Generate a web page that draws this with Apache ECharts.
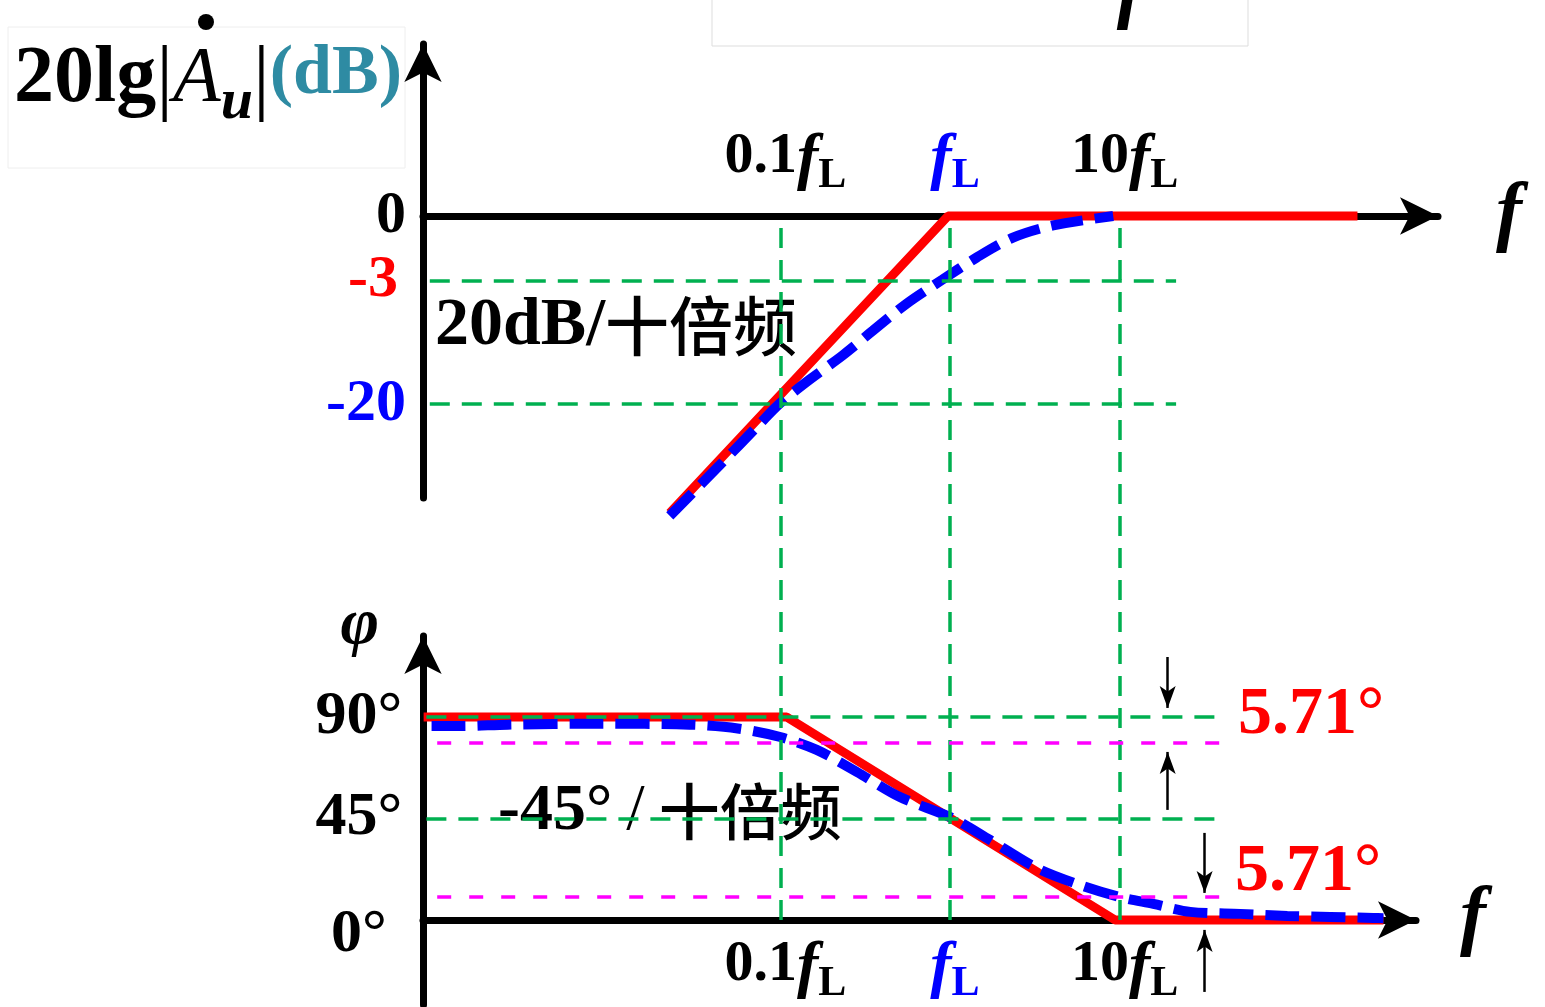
<!DOCTYPE html>
<html><head><meta charset="utf-8">
<script src="https://cdn.jsdelivr.net/npm/echarts@6.0.0/dist/echarts.min.js"></script>
<style>html,body{margin:0;padding:0;background:#fff;}#chart{width:1545px;height:1007px;}</style>
</head><body><div id="chart"></div>
<script>
// Frequencies in units of fL, magnitude in dB, phase in degrees (schematic Bode plot of a high-pass circuit)
const freqTicks = [0.1, 1, 10];
const freqTickPrefix = ['0.1', '', '10'];
const magTicks = [0, -6.9, -20];            // drawn level of each magnitude tick (schematic)
const magTickLabels = ['0', '-3', '-20'];
const phaseTicks = [0, 45, 90];
const phaseTickLabels = ['0°', '45°', '90°'];

const magAsymF  = [0.0223, 0.973, 252];
const magAsymDb = [-31.6, 0, 0];
const magRealF  = [0.0223, 0.044, 0.0757, 0.1, 0.149, 0.234, 0.351, 0.557, 0.897, 1.44, 2.35, 4.06, 9.16];
const magRealDb = [-31.9, -26.5, -22.1, -19.9, -17.4, -14.8, -12.2, -9.3, -6.8, -4.4, -2.3, -1.0, 0];

const phaseAsymF   = [0.00079, 0.109, 9.4, 359];
const phaseAsymDeg = [90, 90, 0, 0];
const phaseRealF   = [0.00088, 0.00132, 0.00247, 0.0086, 0.0292, 0.0561, 0.1, 0.164, 0.283, 0.507, 1.03, 1.72, 3.26, 5.85, 10, 15.8, 26.1, 51.4, 97.3, 313, 359];
const phaseRealDeg = [86.0, 86.0, 86.6, 87.0, 86.6, 84.9, 81.1, 75.4, 65.6, 54.5, 45.2, 35.5, 23.0, 15.5, 10.2, 7.1, 3.6, 2.7, 1.8, 0.9, 0.8];

const magGuideDb     = [-6.9, -20];   // green guides at the -3 dB and -20 dB levels
const phaseGuideDeg  = [90, 45];      // green guides
const phaseOffsetDeg = [78.5, 10.2];  // magenta guides, 5.71° away from 90° and 0°
const offsetLabels   = ['5.71°', '5.71°'];

// ---------------- layout / style ----------------
const L10 = Math.log10;
const X_MIN = -3.106, X_MAX_TOP = 2.876, X_MAX_BOT = 2.747;
const SERIF = "'Liberation Serif','Times New Roman',serif";
const CJK = "'Noto Sans CJK SC',sans-serif";
const GREEN = '#00B050', MAGENTA = '#FF00FF', RED = '#FF0000', BLUE = '#0000FF', TEAL = '#2E8BA3';
const AXIS_W = 7;

function pts(fs, vs) { return fs.map((f, i) => [L10(f), vs[i]]); }
function nearest(arr, v) { let b = 0; arr.forEach((a, i) => { if (Math.abs(a - v) < Math.abs(arr[b] - v)) b = i; }); return b; }
const freqDec = freqTicks.map(L10);

const xRich = {
  n:  {fontFamily: SERIF, fontWeight: 'bold', fontSize: 58, lineHeight: 58, verticalAlign: 'top', color: '#000'},
  f:  {fontFamily: SERIF, fontWeight: 'bold', fontStyle: 'italic', fontSize: 64, lineHeight: 58, verticalAlign: 'top', color: '#000'},
  L:  {fontFamily: SERIF, fontWeight: 'bold', fontSize: 42, lineHeight: 42, verticalAlign: 'top', padding: [27, 0, 0, 0], color: '#000'},
  fb: {fontFamily: SERIF, fontWeight: 'bold', fontStyle: 'italic', fontSize: 64, lineHeight: 58, verticalAlign: 'top', color: BLUE},
  Lb: {fontFamily: SERIF, fontWeight: 'bold', fontSize: 42, lineHeight: 42, verticalAlign: 'top', padding: [27, 0, 0, 0], color: BLUE}
};
function freqLabel(v) {
  const i = nearest(freqDec, v);
  const pre = freqTickPrefix[i];
  const hl = freqTicks[i] === 1;
  return (pre ? '{n|' + pre + '}' : '') + (hl ? '{fb|f}{Lb|L}' : '{f|f}{L|L}');
}
const axisLineStyle = {color: '#000', width: AXIS_W};
const fName = {fontFamily: SERIF, fontStyle: 'italic', fontWeight: 'bold', fontSize: 78, color: '#000', verticalAlign: 'middle'};

// data x-axes (scale only)
function xDataAxis(gridIndex, max) {
  return {type: 'value', gridIndex, min: X_MIN, max, axisLine: {show: false}, axisTick: {show: false}, axisLabel: {show: false}, splitLine: {show: false}};
}
// visible frequency axes (their grid's bottom edge sits on the 0 dB / 0° level)
function xShownAxis(gridIndex, max, top) {
  return {
    type: 'value', gridIndex, min: X_MIN, max, position: 'bottom',
    axisLine: {show: true, onZero: false, symbol: ['none', 'arrow'], symbolSize: [28, 38], lineStyle: axisLineStyle},
    axisTick: {show: false}, splitLine: {show: false},
    axisLabel: {show: true, customValues: freqDec, inside: top, margin: top ? 30 : 16, padding: [0, 0, 0, 10], formatter: freqLabel, rich: xRich},
    name: 'f', nameLocation: 'end', nameGap: top ? 58 : 44, nameTextStyle: fName, nameMoveOverlap: false
  };
}

const guideStyle = (c) => ({color: c, width: 3.5, type: [20, 12]});
function hLine(x1, x2, y) { return [{coord: [x1, y]}, {coord: [x2, y]}]; }
function helper(xi, yi, markLine) {
  return {type: 'line', xAxisIndex: xi, yAxisIndex: yi, data: [[X_MIN, 0]], showSymbol: false, lineStyle: {opacity: 0}, silent: true, markLine};
}

const magGuideEnd = L10(21.5), phGuideEnd = L10(41.5), magentaStart = L10(0.00095);
const arrowA = L10(19.2), arrowB = L10(31.7);
const G = {containLabel: false, outerBoundsMode: 'none'};

const option = {
  animation: false,
  grid: [
    Object.assign({left: 423, right: 107, top: 44, bottom: 509}, G),   // 0 magnitude data
    Object.assign({left: 423, right: 129, top: 636, bottom: 2}, G),    // 1 phase data
    Object.assign({left: 423, right: 107, top: 216, bottom: 87}, G),   // 2 vertical guides
    Object.assign({left: 423, right: 107, top: 44, bottom: 791}, G),   // 3 magnitude f-axis
    Object.assign({left: 423, right: 129, top: 636, bottom: 87}, G)    // 4 phase f-axis
  ],
  xAxis: [
    xDataAxis(0, X_MAX_TOP),
    xDataAxis(1, X_MAX_BOT),
    {type: 'value', gridIndex: 2, min: X_MIN, max: X_MAX_TOP, show: false},
    xShownAxis(3, X_MAX_TOP, true),
    xShownAxis(4, X_MAX_BOT, false)
  ],
  yAxis: [
    {
      type: 'value', gridIndex: 0, min: -30.0, max: 18.3,
      axisLine: {show: true, onZero: false, symbol: ['none', 'arrow'], symbolSize: [28, 38], lineStyle: axisLineStyle},
      axisTick: {show: false}, splitLine: {show: false},
      axisLabel: {
        customValues: magTicks, margin: 17,
        formatter: v => { const i = nearest(magTicks, v); return '{' + ['k', 'r', 'b'][i] + '|' + magTickLabels[i] + '}'; },
        rich: {
          k: {fontFamily: SERIF, fontWeight: 'bold', fontSize: 60, color: '#000'},
          r: {fontFamily: SERIF, fontWeight: 'bold', fontSize: 60, color: RED, padding: [0, 8, 0, 0]},
          b: {fontFamily: SERIF, fontWeight: 'bold', fontSize: 60, color: BLUE}
        }
      }
    },
    {
      type: 'value', gridIndex: 1, min: -37.7, max: 125.9,
      axisLine: {show: true, onZero: false, symbol: ['none', 'arrow'], symbolSize: [28, 38], lineStyle: axisLineStyle},
      axisTick: {show: false}, splitLine: {show: false},
      axisLabel: {
        customValues: phaseTicks, margin: 64, align: 'center',
        formatter: v => { const i = nearest(phaseTicks, v); return '{' + (phaseTicks[i] === 0 ? 'z' : 'k') + '|' + phaseTickLabels[i] + '}'; },
        rich: {
          k: {fontFamily: SERIF, fontWeight: 'bold', fontSize: 62, color: '#000'},
          z: {fontFamily: SERIF, fontWeight: 'bold', fontSize: 62, color: '#000', padding: [30, 0, 0, 0]}
        }
      },
      name: 'φ', nameLocation: 'end', nameGap: 10, nameMoveOverlap: false,
      nameTextStyle: {fontFamily: SERIF, fontStyle: 'italic', fontWeight: 'bold', fontSize: 66, color: '#000', align: 'right', verticalAlign: 'middle', padding: [0, 44, 0, 0]}
    },
    {type: 'value', gridIndex: 2, min: 0, max: 1, show: false},
    {type: 'value', gridIndex: 3, min: 0, max: 1, show: false},
    {type: 'value', gridIndex: 4, min: 0, max: 1, show: false}
  ],
  series: [
    // vertical green guides at 0.1fL, fL, 10fL spanning both panels
    helper(2, 2, {silent: true, symbol: 'none', label: {show: false}, lineStyle: guideStyle(GREEN), emphasis: {disabled: true},
      data: freqDec.map(d => ({xAxis: d}))}),
    // magnitude guides
    helper(0, 0, {silent: true, symbol: 'none', label: {show: false}, lineStyle: guideStyle(GREEN), emphasis: {disabled: true},
      data: magGuideDb.map(y => hLine(X_MIN + 0.04, magGuideEnd, y))}),
    {
      name: 'asymptote', type: 'line', xAxisIndex: 0, yAxisIndex: 0, data: pts(magAsymF, magAsymDb),
      showSymbol: false, clip: false, lineStyle: {color: RED, width: 9}, z: 3
    },
    {
      name: 'actual', type: 'line', xAxisIndex: 0, yAxisIndex: 0, data: pts(magRealF, magRealDb), smooth: 0.3,
      showSymbol: false, clip: false, lineStyle: {color: BLUE, width: 10, type: [32, 12]}, z: 4
    },
    // phase guides
    helper(1, 1, {silent: true, symbol: 'none', label: {show: false}, lineStyle: guideStyle(GREEN), emphasis: {disabled: true},
      data: phaseGuideDeg.map(y => hLine(X_MIN + 0.02, phGuideEnd, y))}),
    helper(1, 1, {silent: true, symbol: 'none', label: {show: false}, lineStyle: {color: MAGENTA, width: 3.5, type: [14, 18]}, emphasis: {disabled: true},
      data: phaseOffsetDeg.map(y => hLine(magentaStart, phGuideEnd - 0.02, y))}),
    // 5.71° indicator arrows
    helper(1, 1, {silent: true, symbol: ['none', 'arrow'], symbolSize: [12, 22], label: {show: false}, lineStyle: {color: '#000', width: 2.5, type: 'solid'}, emphasis: {disabled: true},
      data: [
        [{coord: [arrowA, 116.6]}, {coord: [arrowA, 94.0]}],
        [{coord: [arrowA, 48.8]}, {coord: [arrowA, 74.5]}],
        [{coord: [arrowB, 38.6]}, {coord: [arrowB, 12.0]}],
        [{coord: [arrowB, -31.9]}, {coord: [arrowB, -4.4]}]
      ]}),
    {
      name: 'asymptote', type: 'line', xAxisIndex: 1, yAxisIndex: 1, data: pts(phaseAsymF, phaseAsymDeg),
      showSymbol: false, clip: false, lineStyle: {color: RED, width: 9}, z: 3
    },
    {
      name: 'actual', type: 'line', xAxisIndex: 1, yAxisIndex: 1, data: pts(phaseRealF, phaseRealDeg), smooth: 0.3,
      showSymbol: false, clip: false, lineStyle: {color: BLUE, width: 10, type: [34, 12]}, z: 4
    }
  ],
  graphic: [
    {type: 'rect', shape: {x: 8, y: 27, width: 397, height: 141}, style: {fill: '#fff', stroke: '#eeeeee', lineWidth: 1}, z: -1, silent: true},
    {type: 'rect', shape: {x: 712, y: -2, width: 536, height: 48}, style: {fill: '#fff', stroke: '#dddddd', lineWidth: 1}, z: -1, silent: true},
    {type: 'text', x: 1130, y: 32, silent: true,
      style: {text: 'f', fontFamily: SERIF, fontStyle: 'italic', fontWeight: 'bold', fontSize: 80, fill: '#000', align: 'center', verticalAlign: 'bottom'}},
    {type: 'circle', shape: {cx: 206, cy: 22, r: 8}, style: {fill: '#000'}, silent: true},
    {type: 'text', x: 14, y: 40, silent: true,
      style: {
        text: '{a|20lg}{b||}{A|A}{u|u}{b||}{d|(dB)}', align: 'left', verticalAlign: 'top',
        rich: {
          a: {fontFamily: SERIF, fontWeight: 'bold', fontSize: 80, lineHeight: 78, verticalAlign: 'top', fill: '#000'},
          b: {fontFamily: SERIF, fontSize: 84, lineHeight: 78, verticalAlign: 'top', fill: '#000'},
          A: {fontFamily: SERIF, fontStyle: 'italic', fontSize: 78, lineHeight: 78, verticalAlign: 'top', fill: '#000'},
          u: {fontFamily: SERIF, fontStyle: 'italic', fontWeight: 'bold', fontSize: 58, lineHeight: 58, verticalAlign: 'top', padding: [34, 0, 0, 0], fill: '#000'},
          d: {fontFamily: SERIF, fontWeight: 'bold', fontSize: 70, lineHeight: 78, verticalAlign: 'top', fill: TEAL}
        }
      }},
    {type: 'text', x: 435, y: 326, silent: true,
      style: {
        text: '{n|20dB/}{c|十倍频}', align: 'left', verticalAlign: 'middle',
        rich: {
          n: {fontFamily: SERIF, fontWeight: 'bold', fontSize: 68, fill: '#000'},
          c: {fontFamily: CJK, fontWeight: 500, fontSize: 64, fill: '#000'}
        }
      }},
    {type: 'text', x: 498, y: 812, silent: true,
      style: {
        text: '{n|-45°}{s|/}{c|十倍频}', align: 'left', verticalAlign: 'middle',
        rich: {
          n: {fontFamily: SERIF, fontWeight: 'bold', fontSize: 66, fill: '#000'},
          s: {fontFamily: SERIF, fontSize: 66, fill: '#000', padding: [0, 14, 0, 14]},
          c: {fontFamily: CJK, fontWeight: 500, fontSize: 61, fill: '#000'}
        }
      }},
    {type: 'text', x: 1238, y: 715, silent: true,
      style: {text: offsetLabels[0], fontFamily: SERIF, fontWeight: 'bold', fontSize: 68, fill: RED, align: 'left', verticalAlign: 'middle'}},
    {type: 'text', x: 1235, y: 872, silent: true,
      style: {text: offsetLabels[1], fontFamily: SERIF, fontWeight: 'bold', fontSize: 68, fill: RED, align: 'left', verticalAlign: 'middle'}}
  ]
};

const chart = echarts.init(document.getElementById('chart'), null, {renderer: 'canvas'});
chart.setOption(option);
</script>
</body></html>
